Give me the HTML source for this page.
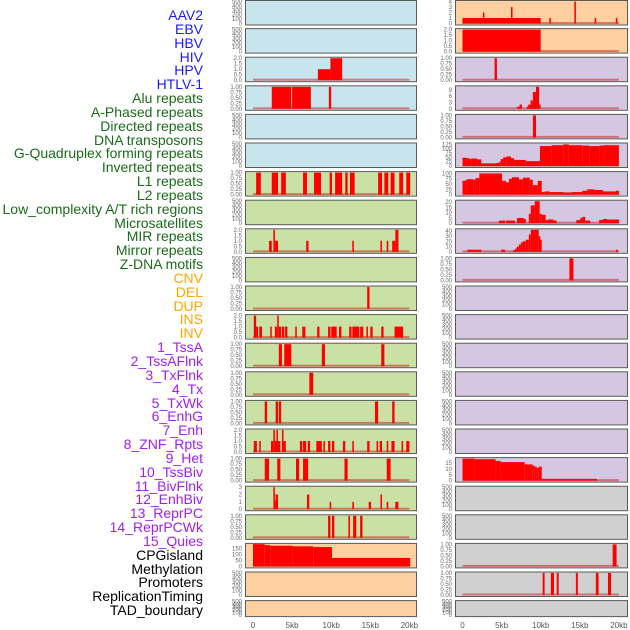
<!DOCTYPE html>
<html><head><meta charset="utf-8">
<style>
body{margin:0;background:#fff;}
#wrap{position:relative;width:630px;height:630px;overflow:hidden;font-family:"Liberation Sans",sans-serif;}
.lab{position:absolute;right:427px;font-size:14px;line-height:14px;white-space:nowrap;}
</style></head>
<body>
<div id="wrap">
<svg id="svg" width="630" height="630" style="position:absolute;left:0;top:0"></svg>
</div>
<script>
const labels=["AAV2","EBV","HBV","HIV","HPV","HTLV-1","Alu repeats","A-Phased repeats","Directed repeats","DNA transposons","G-Quadruplex forming repeats","Inverted repeats","L1 repeats","L2 repeats","Low_complexity A/T rich regions","Microsatellites","MIR repeats","Mirror repeats","Z-DNA motifs","CNV","DEL","DUP","INS","INV","1_TssA","2_TssAFlnk","3_TxFlnk","4_Tx","5_TxWk","6_EnhG","7_Enh","8_ZNF_Rpts","9_Het","10_TssBiv","11_BivFlnk","12_EnhBiv","13_ReprPC","14_ReprPCWk","15_Quies","CPGisland","Methylation","Promoters","ReplicationTiming","TAD_boundary"];
const labelGroups=[6,13,5,15,5];
const groupColors=["#1a1aff","#1a6b1a","#ffa500","#a020f0","#000000"];
const xTicks=[0,5,10,15,20];
const xTickLabels=["0","5kb","10kb","15kb","20kb"];

const leftBg=["b","b","b","b","b","b","g","g","g","g","g","g","g","g","g","g","g","g","g","o","o","o"];
const rightBg=["o","o","p","p","p","p","p","p","p","p","p","p","p","p","p","p","p","y","y","y","y","y"];
const leftMax=[0,0,2,1,0,0,1,0,2,0,1,2,1,1,1,2,1,3,1,182,0,0];
const rightMax=[4,2,1,10.5,1,127,104,21,42,1,0,0,0,0,0,0,19,0,0,1,1,0];
const T2=["0.0","0.5","1.0","1.5","2.0"];
const leftTicks=[null,null,T2,"u",null,null,"u",null,T2,null,"u",T2,"u","u","u",T2,"u",["0","1","2","3"],"u",["0","50","100","150"],null,null];
const rightTicks=[["0","1","2","3","4"],T2,"u",["0","3","6","9"],"u",["0","25","50","75","100","125"],["0","25","50","75","100"],["0","5","10","15","20"],["0","10","20","30","40"],"u",null,null,null,null,null,null,["0","5","10","15"],null,null,"u","u",null];

const L3=[[8.3,9.9,1],[9.9,11.4,2]];
const L4=[[2.4,4.9,1],[5.0,7.4,1],[9.7,10.0,1]];
const L7=[[0.4,1.0,1],[2.4,3.2,1],[3.6,4.2,1],[6.4,6.9,1],[7.8,8.7,1],[9.8,10.1,1],[10.5,11.4,1],[11.8,12.1,1],[12.4,13.0,1],[16.0,16.5,1],[16.8,17.3,1],[17.6,18.1,1],[18.7,19.2,1],[19.6,20.1,1]];
const L9=[[2.05,2.4,1],[2.6,2.8,2],[2.8,3.2,1],[6.8,7.1,1],[12.7,12.9,1],[16.3,16.5,1],[17.1,17.3,1],[17.8,18.2,1],[18.2,18.6,2]];
const L11=[[14.6,14.9,1]];
const L12=[[0.1,0.4,2],[0.4,0.65,1],[0.8,1.15,1],[2.2,2.4,1],[2.8,3.1,1],[3.1,3.3,2],[3.3,3.6,1],[3.7,4.0,1],[4.1,4.4,1],[5.4,5.6,1],[6.3,6.7,1],[8.2,8.5,1],[9.6,9.9,1],[10.0,10.7,1],[11.0,11.3,1],[12.3,12.6,1],[12.7,13.6,1],[13.7,14.1,1],[14.5,14.7,1],[15.0,15.3,1],[16.4,16.7,1],[18.1,19.2,1]];
const L13=[[3.3,3.7,1],[4.0,4.9,1],[8.8,9.2,1],[16.4,16.8,1]];
const L14=[[7.2,7.7,1]];
const L15=[[1.5,1.8,1],[2.9,3.2,1],[3.3,3.6,1],[15.6,16.0,1],[17.8,18.1,1]];
const L16=[[0.1,0.5,1],[0.8,1.0,1],[2.3,2.6,1],[2.6,2.8,2],[2.8,3.0,1],[3.0,3.2,2],[3.2,3.5,1],[3.7,3.9,2],[3.9,4.2,1],[6.0,6.3,1],[6.4,6.8,1],[7.0,7.3,1],[8.1,8.8,1],[9.0,9.2,1],[9.6,9.9,1],[10.1,10.4,1],[11.5,11.8,1],[12.7,12.9,1],[14.6,14.9,1],[15.8,16.0,1],[16.2,16.5,1],[17.1,17.3,1],[17.7,18.1,1],[19.0,19.2,1],[19.6,20.0,1]];
const L17=[[1.5,2.05,1],[3.1,3.5,1],[5.5,5.9,1],[6.4,7.05,1],[11.7,12.1,1],[17.1,17.6,1]];
const L18=[[2.6,2.8,3],[2.8,2.9,1.2],[2.9,3.2,2],[6.9,7.2,2],[9.8,10.0,1],[12.7,12.9,1],[14.8,15.1,1],[16.3,16.5,2],[17.1,17.3,1],[18.2,18.6,1]];
const L19=[[9.6,9.9,1],[10.1,10.4,1],[12.2,12.4,1],[12.8,13.2,1],[13.7,14.0,1]];
const L20=[[0,1.5,184],[1.5,2.2,176],[2.2,5.1,171],[5.1,7.7,166],[7.7,10.1,160],[10.1,20.1,70]];
const R1=[[0,10.0,1],[2.6,2.8,2],[6.2,6.4,3],[11.1,11.3,1],[14.3,14.5,4],[16.9,17.1,1],[19.6,19.8,1]];
const R2=[[0,10.0,2]];
const R3=[[4.1,4.4,1]];
const R4=[[7.0,7.3,1],[7.3,7.6,2],[8.2,8.4,1],[8.4,8.7,2],[8.7,9.0,4],[9.0,9.4,8],[9.4,9.8,10.5],[9.8,10.0,2]];
const R5=[[9.0,9.4,1]];
const R6edges=[0,0.5,0.9,1.1,1.9,2.4,4.2,4.7,4.9,5.2,5.6,6.2,6.6,8.1,9.9,11.4,12.9,13.6,15.3,16.2,17.5,18.1,20.0];
const R6vals=[48,45,40,43,38,15,17,25,40,50,55,45,35,28,115,120,125,120,118,115,118,120];
const R7edges=[0,0.38,0.63,1.39,1.65,2.15,5.06,5.57,5.95,6.33,7.22,7.72,8.61,8.99,9.62,10.13,10.51,11.14,12.91,13.92,15.32,15.95,16.84,17.97,19.62,20];
const R7vals=[65,70,73,70,78,100,65,58,75,82,72,80,70,45,65,12,15,12,10,12,18,25,22,15,18];
const R8=[[4.68,5.44,2.5],[5.57,6.71,2.5],[6.96,7.85,5],[7.85,8.10,4],[8.48,8.73,9],[8.73,9.24,17],[9.24,9.87,21],[9.87,10.13,9],[10.13,10.63,8],[10.63,10.89,3],[10.89,11.65,3.5],[11.65,12.03,2.5],[14.56,15.06,3],[15.06,15.32,5],[15.32,15.70,6],[15.70,16.33,2.5],[17.47,17.97,3],[17.97,18.48,4],[18.48,20,3.5]];
const R9=[[0.63,2.41,4],[4.94,5.44,4],[6.46,6.71,3],[6.71,6.96,6],[6.96,7.22,10],[7.22,7.47,14],[7.47,7.72,18],[7.72,8.10,20],[8.10,8.48,23],[8.48,8.73,33],[8.73,9.75,42],[9.75,9.87,30],[9.87,10.13,23],[19.62,19.87,4]];
const R10=[[13.67,14.18,1]];
const R17edges=[0,1.54,4.23,4.87,7.95,8.97,9.23,9.49,9.74,10.13,17.18];
const R17vals=[19,18.5,17,16,14,13,12,11,12,1.5];
const R20=[[19.2,19.7,1]];
const R21=[[10.25,10.5,1],[11.3,11.7,1],[12.05,12.3,1],[14.5,14.75,1],[17.05,17.4,1],[18.6,19.0,1]];

function steps(e,v){const o=[];for(let i=0;i<v.length;i++)o.push([e[i],e[i+1],v[i]]);return o;}
const leftBars=[[],[],L3,L4,[],[],L7,[],L9,[],L11,L12,L13,L14,L15,L16,L17,L18,L19,L20,[],[]];
const rightBars=[R1,R2,R3,R4,R5,steps(R6edges,R6vals),steps(R7edges,R7vals),R8,R9,R10,[],[],[],[],[],[],steps(R17edges,R17vals),[],[],R20,R21,[]];

const bgColors={b:"#c8e4ec",g:"#c9e1a5",o:"#ffd09f",p:"#d5c6e1",y:"#d0d0d0"};
const NS="http://www.w3.org/2000/svg";
const svg=document.getElementById("svg");
function el(tag,attrs,parent){const e=document.createElementNS(NS,tag);for(const k in attrs)e.setAttribute(k,attrs[k]);(parent||svg).appendChild(e);return e;}

const wrap=document.getElementById("wrap");
let gi=0,cnt=0;
labels.forEach((t,i)=>{
  if(cnt>=labelGroups[gi]){gi++;cnt=0;}cnt++;
  const d=document.createElement("div");
  d.className="lab";d.textContent=t;
  d.style.top=(8+i*13.84)+"px";d.style.color=groupColors[gi];
  
  
  wrap.appendChild(d);
});

const cols=[{x0:245,x1:416,z:253,bg:leftBg,max:leftMax,ticks:leftTicks,bars:leftBars,name:"left"},
            {x0:455,x1:627,z:462.5,bg:rightBg,max:rightMax,ticks:rightTicks,bars:rightBars,name:"right"}];
const pxPerKb=7.82;
for(let r=0;r<22;r++){
  const T=r===0?0.5:r*28.6;
  const H=r===21?16:24.5;
  cols.forEach(c=>{
    const g=el("g",{});
    
    
    el("rect",{x:c.x0+0.5,y:T,width:c.x1-c.x0,height:H,fill:bgColors[c.bg[r]],stroke:"#5a5a5a","stroke-width":1},g);
    let m=c.max[r];let tk=c.ticks[r];
    const zeroY=T+H-1.5, topY=T+1;
    if(m===0){m=500;tk=["0","100","200","300","400","500"];}
    if(tk==="u")tk=["0.00","0.25","0.50","0.75","1.00"];
    if(!tk)tk=[];
    const ys=v=>zeroY-(v/m)*(zeroY-topY);
    tk.forEach(s=>{
      const t=el("text",{x:c.x0-3,y:ys(parseFloat(s))+2,"font-size":"6","text-anchor":"end",fill:"#666"},g);
      t.textContent=s;
      
      
    });
    const bars=c.bars[r]||[];
    if(bars.length){
      const bl=el("rect",{x:c.z,y:zeroY-1.5,width:20*pxPerKb,height:2,fill:"rgba(200,0,0,0.45)"},g);
      
      
      bars.forEach(b=>{
        const x=c.z+b[0]*pxPerKb,w=Math.max(1.5,(b[1]-b[0])*pxPerKb),y=ys(b[2]);
        const rc=el("rect",{x:x,y:y,width:w,height:zeroY-y,fill:"#ff0000"},g);
        
        
      });
    }
  });
}
cols.forEach(c=>{
  xTicks.forEach((v,i)=>{
    const t=el("text",{x:c.z+v*pxPerKb,y:628,"font-size":"8","text-anchor":"middle",fill:"#555"});
    t.textContent=xTickLabels[i];
    
    
  });
});
</script>
</body></html>
